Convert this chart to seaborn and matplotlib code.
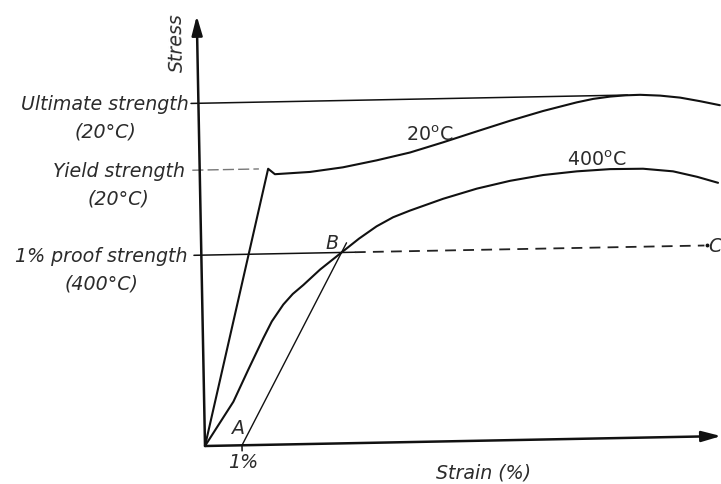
import numpy as np
import pandas as pd
import matplotlib
matplotlib.use("Agg")
import matplotlib.pyplot as plt
import seaborn as sns
from matplotlib.transforms import Affine2D

# Stress-strain curves (strain in %, stress in MPa)
strain_20 = [0, 1.85, 2.03, 2.98, 3.87, 4.79, 5.69, 6.59, 7.51, 8.41, 9.31,
             10.22, 10.67, 11.13, 11.55, 11.94, 12.48, 13.02, 13.56, 14.09]
stress_20 = [0, 347, 340, 342, 347, 355, 364, 376, 389, 401.5, 413,
             423, 427, 429.5, 430.7, 431, 429.5, 426.5, 421.5, 416]

strain_400 = [0, 0.79, 1.21, 1.63, 1.87, 2.19, 2.45, 2.74, 3.20, 3.79, 4.27,
              4.75, 5.20, 5.66, 6.56, 7.48, 8.38, 9.28, 10.19, 11.09, 11.98,
              12.79, 13.44, 14.0]
stress_400 = [0, 55, 95, 134, 155, 176, 189, 200, 219, 240, 257,
              272, 283, 291, 305, 317, 326, 332.5, 336.3, 338.3, 338,
              334, 326.5, 318.5]

# Reference levels
ultimate_20 = 431
yield_20 = 347
proof_400 = 240
offset_strain = 1.0          # point A
offset_line_end = 3.93       # slightly past point B
point_b = (3.79, 240)

level_labels = [("Ultimate strength", "(20°C)", ultimate_20, -0.25),
                ("Yield strength", "(20°C)", yield_20, -0.40),
                ("1% proof strength", "(400°C)", proof_400, -0.38)]

sns.set_theme(style="white")
plt.rcParams["font.family"] = ["DejaVu Sans"]

fig = plt.figure(figsize=(7.21, 4.85), dpi=100)
ax = fig.add_axes([0, 0, 1, 1])
ax.set_xlim(-205 / 37, (721 - 205) / 37)
ax.set_ylim(-38 / 0.7953, (485 - 38) / 0.7953)
ax.axis("off")

# the drawing sits slightly tilted on the page
ox, oy = ax.transData.transform((0, 0))
rot = ax.transData + Affine2D().rotate_deg_around(ox, oy, 1.1)

ink = "#111111"
txt = "#2b2b2b"
fs = 13.7


def plot_line(x, y, **kw):
    n = len(ax.lines)
    sns.lineplot(x=x, y=y, ax=ax, sort=False, estimator=None, **kw)
    for ln in ax.lines[n:]:
        ln.set_transform(rot)


curves = pd.DataFrame({"strain": strain_20, "stress": stress_20})
plot_line(curves["strain"], curves["stress"], color=ink, lw=1.5)
curves400 = pd.DataFrame({"strain": strain_400, "stress": stress_400})
plot_line(curves400["strain"], curves400["stress"], color=ink, lw=1.5)

# horizontal reference levels
plot_line([-0.2, 11.6], [ultimate_20, ultimate_20], color=ink, lw=1.1)
plot_line([-0.2, 1.6], [yield_20, yield_20], color="#777777", lw=1.0,
          linestyle=(0, (8, 3)))
plot_line([-0.2, 4.15], [proof_400, proof_400], color=ink, lw=1.1)
plot_line([4.15, 13.6], [proof_400, proof_400], color="#222222", lw=1.3,
          linestyle=(0, (6, 4)))
ax.plot([13.66], [proof_400], marker="o", ms=1.8, color=ink, transform=rot)

# offset line A-B
plot_line([offset_strain, offset_line_end],
          [0, (offset_line_end - offset_strain) * point_b[1] / (point_b[0] - offset_strain)],
          color=ink, lw=1.0)
# 1% tick
plot_line([offset_strain, offset_strain], [0, -7], color=ink, lw=1.1)

# axes with arrow heads
arrow = dict(arrowstyle="-|>,head_length=0.58,head_width=0.16", color=ink,
             lw=1.8, shrinkA=0, shrinkB=0, mutation_scale=20)
ax.annotate("", xy=(0, 541), xycoords=rot, xytext=(0, 0), textcoords=rot,
            arrowprops=arrow)
ax.annotate("", xy=(13.95, 0), xycoords=rot, xytext=(0, 0), textcoords=rot,
            arrowprops=arrow)

# level labels on the left
for first, second, level, xpos in level_labels:
    t1 = ax.text(xpos, level, first, transform=rot, ha="right", va="center",
                 fontsize=fs, style="italic", color=txt)
    ax.annotate(second, xy=(0.5, 0), xycoords=t1, xytext=(0, -6.5),
                textcoords="offset points", ha="center", va="top",
                fontsize=fs, style="italic", color=txt)

# curve labels
ax.text(6.24, 387, r"20$^\mathregular{o}$C", transform=rot, ha="center",
        va="center", fontsize=fs, color=txt)
ax.text(10.74, 351, r"400$^\mathregular{o}$C", transform=rot, ha="center",
        va="center", fontsize=fs, color=txt)

# point letters
ax.text(0.875, 23, "A", transform=rot, ha="center", va="center",
        fontsize=fs, style="italic", color=txt)
ax.text(3.53, 253, "B", transform=rot, ha="center", va="center",
        fontsize=fs, style="italic", color=txt)
ax.text(13.70, 240.5, "C", transform=rot, ha="left", va="center",
        fontsize=fs, style="italic", color=txt)
ax.text(1.02, -21, "1%", transform=rot, ha="center", va="center",
        fontsize=fs, style="italic", color=txt)

# axis titles
ax.text(-0.55, 509, "Stress", transform=rot, ha="center", va="center",
        rotation=91.1, fontsize=fs, style="italic", color=txt)
ax.text(7.5, -39.5, "Strain (%)", transform=rot, ha="center", va="center",
        fontsize=fs, style="italic", color=txt)

fig.savefig("out.png", dpi=100, facecolor="white")
